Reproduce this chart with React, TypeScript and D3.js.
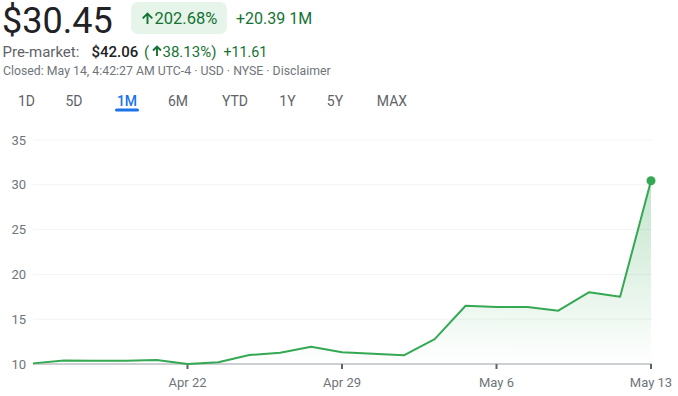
import React from "react";
import * as d3 from "d3";

const dates = [
  "Apr 15", "Apr 16", "Apr 17", "Apr 18", "Apr 19",
  "Apr 22", "Apr 23", "Apr 24", "Apr 25", "Apr 26",
  "Apr 29", "Apr 30", "May 1", "May 2", "May 3",
  "May 6", "May 7", "May 8", "May 9", "May 10",
  "May 13",
];
const prices = [
  10.07, 10.4, 10.36, 10.36, 10.45,
  10.0, 10.2, 11.0, 11.26, 11.93,
  11.3, 11.15, 10.97, 12.78, 16.5,
  16.36, 16.36, 15.95, 18.02, 17.5,
  30.45,
];
const yTicks = [10, 15, 20, 25, 30, 35];
const xTickLabels = ["Apr 22", "Apr 29", "May 6", "May 13"];
const tabs = ["1D", "5D", "1M", "6M", "YTD", "1Y", "5Y", "MAX"];
const tabCenters = [26.5, 74, 127, 178, 235, 287.5, 335, 392];
const activeTab = "1M";

const GREEN = "#34a853";
const DGREEN = "#137333";
const FONT = "Roboto, Arial, sans-serif";

function UpArrow({ cx, top, bottom, half }: { cx: number; top: number; bottom: number; half: number }) {
  const d = `M${cx},${bottom} L${cx},${top + 1} M${cx - half},${top + half} L${cx},${top} L${cx + half},${top + half}`;
  return <path d={d} fill="none" stroke={DGREEN} strokeWidth={1.9} strokeLinecap="butt" strokeLinejoin="miter" />;
}

export default function App() {
  const W = 678, H = 396;
  const x = d3.scaleLinear().domain([0, dates.length - 1]).range([33, 651]);
  const y = d3.scaleLinear().domain([10, 35]).range([364, 140]);
  const line = d3.line<number>().x((_, i) => x(i)).y((d) => y(d));
  const area = d3
    .area<number>()
    .x((_, i) => x(i))
    .y0(y(10))
    .y1((d) => y(d));
  const last = prices.length - 1;

  return (
    <svg
      width={W}
      height={H}
      style={{ position: "absolute", left: 0, top: 0, background: "#fff" }}
      fontFamily={FONT}
    >
      <defs>
        <linearGradient id="ag" gradientUnits="userSpaceOnUse" x1="0" y1={y(30.45)} x2="0" y2={y(10)}>
          <stop offset="0" stopColor={GREEN} stopOpacity={0.3} />
          <stop offset="1" stopColor={GREEN} stopOpacity={0} />
        </linearGradient>
      </defs>

      {/* Header */}
      <text x={2} y={33} fontSize={36} fill="#202124">$30.45</text>
      <rect x={131} y={2} width={96} height={32} rx={7} fill="#e6f4ea" />
      <UpArrow cx={147.5} top={13.5} bottom={24} half={4.8} />
      <text x={154.5} y={24} fontSize={16.5} fill={DGREEN}>202.68%</text>
      <text x={236} y={24} fontSize={16} fill={DGREEN}>+20.39 1M</text>

      <text x={2.5} y={57} fontSize={15} fill="#5f6368">Pre-market:</text>
      <text x={91.5} y={57} fontSize={15} fill="#202124" fontWeight={500}>$42.06</text>
      <text x={144} y={57} fontSize={15} fill={DGREEN}>(</text>
      <UpArrow cx={157} top={46.5} bottom={56} half={4} />
      <text x={162.5} y={57} fontSize={15} fill={DGREEN}>38.13%)</text>
      <text x={223.5} y={57} fontSize={14.2} fill={DGREEN}>+11.61</text>
      <text x={3} y={75} fontSize={12.3} fill="#70757a">
        Closed: May 14, 4:42:27 AM UTC-4 · USD · NYSE · Disclaimer
      </text>

      {/* Tabs */}
      {tabs.map((t, i) => (
        <text
          key={t}
          x={tabCenters[i]}
          y={106}
          fontSize={14}
          textAnchor="middle"
          fill={t === activeTab ? "#1a73e8" : "#5f6368"}
          fontWeight={t === activeTab ? 500 : 400}
        >
          {t}
        </text>
      ))}
      <rect x={115} y={108.5} width={24} height={3} rx={1.5} fill="#1a73e8" />

      {/* Gridlines */}
      {yTicks.map((t) => (
        <g key={t}>
          {t !== 10 && (
            <line x1={33} x2={652} y1={y(t)} y2={y(t)} stroke="#f1f3f4" strokeWidth={1} />
          )}
          <text x={26} y={y(t)} dy="0.36em" fontSize={13} textAnchor="end" fill="#70757a">
            {t}
          </text>
        </g>
      ))}

      {/* Area and line */}
      <path d={area(prices) || ""} fill="url(#ag)" />
      <line x1={33} x2={652} y1={y(10)} y2={y(10)} stroke="#9aa0a6" strokeWidth={1} />
      {xTickLabels.map((lab) => {
        const i = dates.indexOf(lab);
        return (
          <g key={lab}>
            <line x1={x(i)} x2={x(i)} y1={y(10)} y2={y(10) + 5} stroke="#5f6368" strokeWidth={2} />
            <text x={x(i)} y={387} fontSize={13} textAnchor="middle" fill="#70757a">
              {lab}
            </text>
          </g>
        );
      })}
      <path d={line(prices) || ""} fill="none" stroke={GREEN} strokeWidth={2} strokeLinejoin="round" />
      <circle cx={x(last)} cy={y(prices[last])} r={4.5} fill={GREEN} />
    </svg>
  );
}
